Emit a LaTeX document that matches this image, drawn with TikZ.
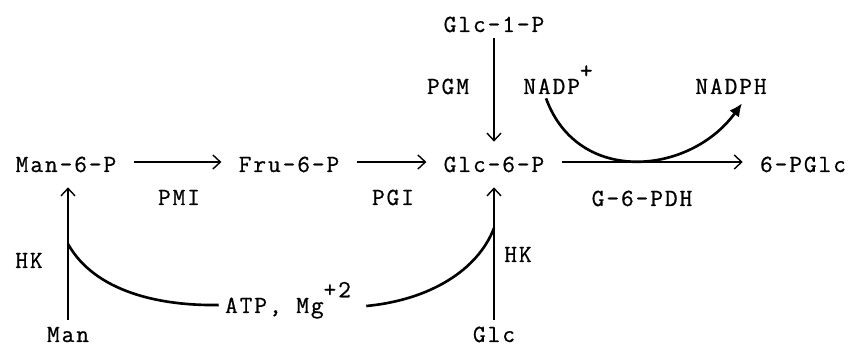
\documentclass[tikz,border=0pt]{standalone}
\usepackage{fontspec}
\setmonofont{Latin Modern Mono}[LetterSpace=8,FakeBold=0.8]
\usetikzlibrary{arrows.meta,calc}
\newcommand{\raisedsup}[1]{\raisebox{0.64em}{#1}}

\begin{document}
\begin{tikzpicture}[x=0.02cm, y=-0.02cm,
    metab/.style={inner sep=0pt, anchor=base, text height=0.4cm, text depth=0pt,
                  font=\ttfamily\fontsize{14}{17}\selectfont},
    enzyme/.style={metab},
    rxn/.style={-{Straight Barb[length=1.5mm,width=2.8mm]}, line width=0.8pt,
                shorten <=0.34cm, shorten >=0.34cm},
    cofactor/.style={line width=1.5pt},
]
    \useasboundingbox (0,0) rectangle (852,347);
    \node[metab] (man6p) at (66,172) {Man-6-P};
    \node[metab] (fru6p) at (289,172) {Fru-6-P};
    \node[metab] (glc6p) at (494,172) {Glc-6-P};
    \node[metab] (pglc) at (803,172) {6-PGlc};
    \node[metab] (glc1p) at (494,32) {Glc-1-P};
    \node[metab] (man) at (68,342) {Man};
    \node[metab] (glc) at (494,342) {Glc};
    \node[metab] (atp) at (288,313) {ATP, Mg\raisedsup{+2}};
    \node[metab] (nadp) at (558,94) {NADP\raisedsup{+}};
    \node[metab] (nadph) at (731,94) {NADPH};
    \node[enzyme] (pmi) at (179,205) {PMI};
    \node[enzyme] (pgi) at (393,205) {PGI};
    \node[enzyme] (g6pdh) at (642,206) {G-6-PDH};
    \node[enzyme] (pgm) at (448,94) {PGM};
    \node[enzyme] (hkman) at (29,268) {HK};
    \node[enzyme] (hkglc) at (518,262) {HK};
    \draw[rxn] (man6p) -- (fru6p);
    \draw[rxn] (fru6p) -- (glc6p);
    \draw[rxn] (glc6p) -- (pglc);
    \draw[rxn, shorten <=0.12cm, shorten >=0.2cm] (glc1p) -- (glc6p);
    \draw[rxn, shorten <=0.04cm, shorten >=0.3cm] (man) -- (man |- man6p.south);
    \draw[rxn, shorten <=0.04cm, shorten >=0.3cm] (glc) -- (glc |- glc6p.south);
    \coordinate (manjoin) at (68,244);
    \coordinate (glcjoin) at (494,228);
    \draw[cofactor] (manjoin) .. controls (95,292) and (160,306) .. ($(atp.west)+(-6,2)$);
    \draw[cofactor] ($(atp.east)+(15,3)$) .. controls (430,300) and (478,270) .. (glcjoin);
    \draw[cofactor, -{Latex[length=2.6mm,width=2.4mm]}]
        ($(nadp.south west)+(23,4)$) .. controls (578,186) and (690,175) .. ($(nadph.south)+(11,9)$);
\end{tikzpicture}
\end{document}
